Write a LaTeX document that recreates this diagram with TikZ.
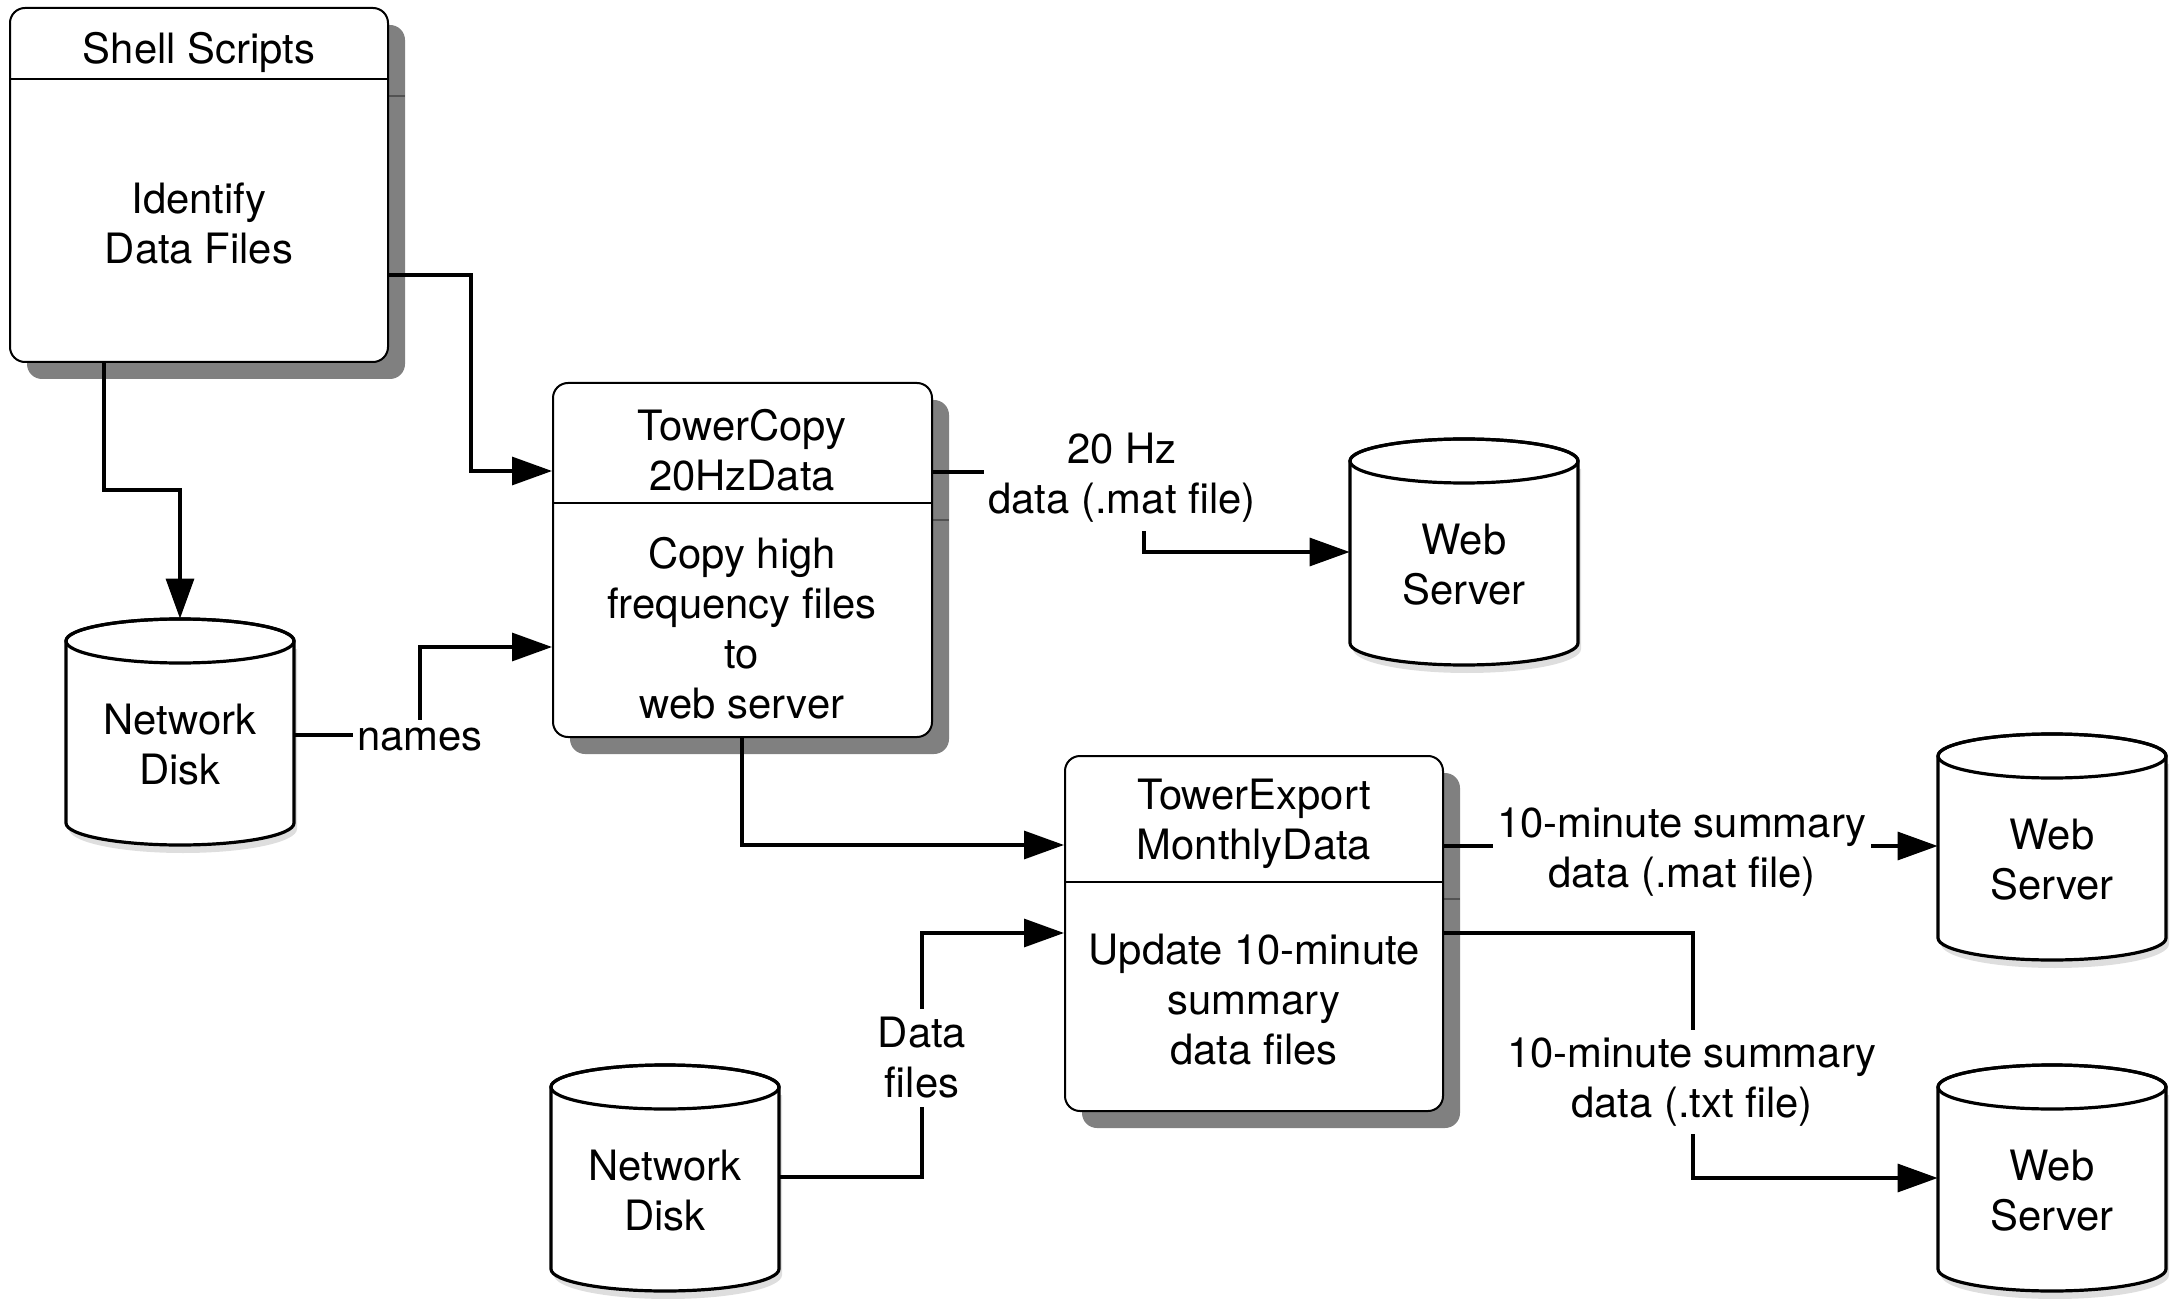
\documentclass[tikz,border=0pt]{standalone}
\usepackage{fontspec}
\setmainfont{TeX Gyre Heros}
\usetikzlibrary{arrows.meta,fit}
\tikzset{
  lbl/.style={font=\fontsize{20.9}{25}\selectfont, align=center, inner sep=0pt},
  tag/.style={lbl, fill=white, inner xsep=2pt, inner ysep=4pt},
  boxshadow/.style={fill=black!50, rounded corners=7.5pt},
  shadowline/.style={draw=black!68, line width=1pt},
  procbox/.style={draw, fill=white, line width=1pt, rounded corners=7.5pt, inner sep=0pt},
  cylbody/.style={draw, fill=white, line width=1.6pt},
  cylshadow/.style={fill=black, opacity=0.13},
  conn/.style={line width=1.6pt, -{Triangle[length=20pt,width=14pt]}},
}
% name, x1, y1, x2, y2, divider y
\newcommand\mkbox[6]{%
  \fill[boxshadow] (#2+17,#3+17) rectangle (#4+17,#5+17);
  \draw[shadowline] (#2+17,#6+17) -- (#4+17,#6+17);
  \node[procbox, fit={(#2,#3) (#4,#5)}] (#1) {};
  \draw[line width=1pt] (#2,#6) -- (#4,#6);
}
% name, centre x, top ellipse centre y, text
\newcommand\mkcyl[4]{%
  \fill[cylshadow] (#2-111,#3+8) -- (#2-111,#3+188) arc[start angle=180,end angle=0,x radius=114,y radius=24] -- (#2+117,#3+8) -- cycle;
  \path[cylbody] (#2-114,#3) -- (#2-114,#3+182) arc[start angle=180,end angle=0,x radius=114,y radius=22] -- (#2+114,#3) arc[start angle=0,end angle=-180,x radius=114,y radius=22] -- cycle;
  \draw[line width=1.6pt] (#2,#3) ellipse[x radius=114,y radius=22];
  \node[fit={(#2-114,#3-22) (#2+114,#3+204)}, inner sep=0pt] (#1) {};
  \node[lbl] (#1t) at (#2,#3+104) {#4};
}
\begin{document}
\begin{tikzpicture}[x=0.5pt,y=-0.5pt]
\useasboundingbox (0,0) rectangle (2174,1299);
\fill[white] (0,0) rectangle (2174,1299);

% process boxes
\mkbox{ss}{10}{8}{388}{362}{79}
\node[lbl] (ssT) at (199,52) {Shell Scripts};
\node[lbl] (ssB) at (199,224) {Identify\\Data Files};

\mkbox{tc}{553}{383}{932}{737}{503}
\node[lbl] (tcT) at (742,450) {TowerCopy\\20HzData};
\node[lbl] (tcB) at (742,628) {Copy high\\frequency files\\to\\web server};

\mkbox{te}{1065}{756}{1443}{1111}{882}
\node[lbl] (teT) at (1254,824) {TowerExport\\MonthlyData};
\node[lbl] (teB) at (1254,1000) {Update 10-minute\\summary\\data files};

% stores
\mkcyl{nda}{180}{641}{Network\\Disk}
\mkcyl{ndb}{665}{1087}{Network\\Disk}
\mkcyl{wsa}{1464}{461}{Web\\Server}
\mkcyl{wsb}{2052}{756}{Web\\Server}
\mkcyl{wsc}{2052}{1087}{Web\\Server}

% connectors
\draw[conn] (ss.east |- 0,275) -| (471,471) -- (tc.west |- 0,471);
\draw[conn] (ss.south -| 104,0) |- (180,490) -- (nda.north);
\draw[conn] (nda.east |- 0,735) -- (420,735) -- (420,647) -- (tc.west |- 0,647);
\node[tag] (lnames) at (420,740) {names};
\draw[conn] (tc.east |- 0,472) -| (1144,552) -- (wsa.west |- 0,552);
\node[tag] (l20hz) at (1122,478) {20 Hz\\data (.mat file)};
\draw[conn] (tc.south -| 742,0) |- (te.west |- 0,845);
\draw[conn] (ndb.east |- 0,1177) -| (922,933) -- (te.west |- 0,933);
\node[tag] (ldata) at (922,1058) {Data\\files};
\draw[conn] (te.east |- 0,846) -- (wsb.west |- 0,846);
\node[tag] (lmat) at (1682,852) {10-minute summary\\data (.mat file)};
\draw[conn] (te.east |- 0,933) -| (1693,1178) -- (wsc.west |- 0,1178);
\node[tag] (ltxt) at (1692,1082) {10-minute summary\\data (.txt file)};
\end{tikzpicture}
\end{document}
